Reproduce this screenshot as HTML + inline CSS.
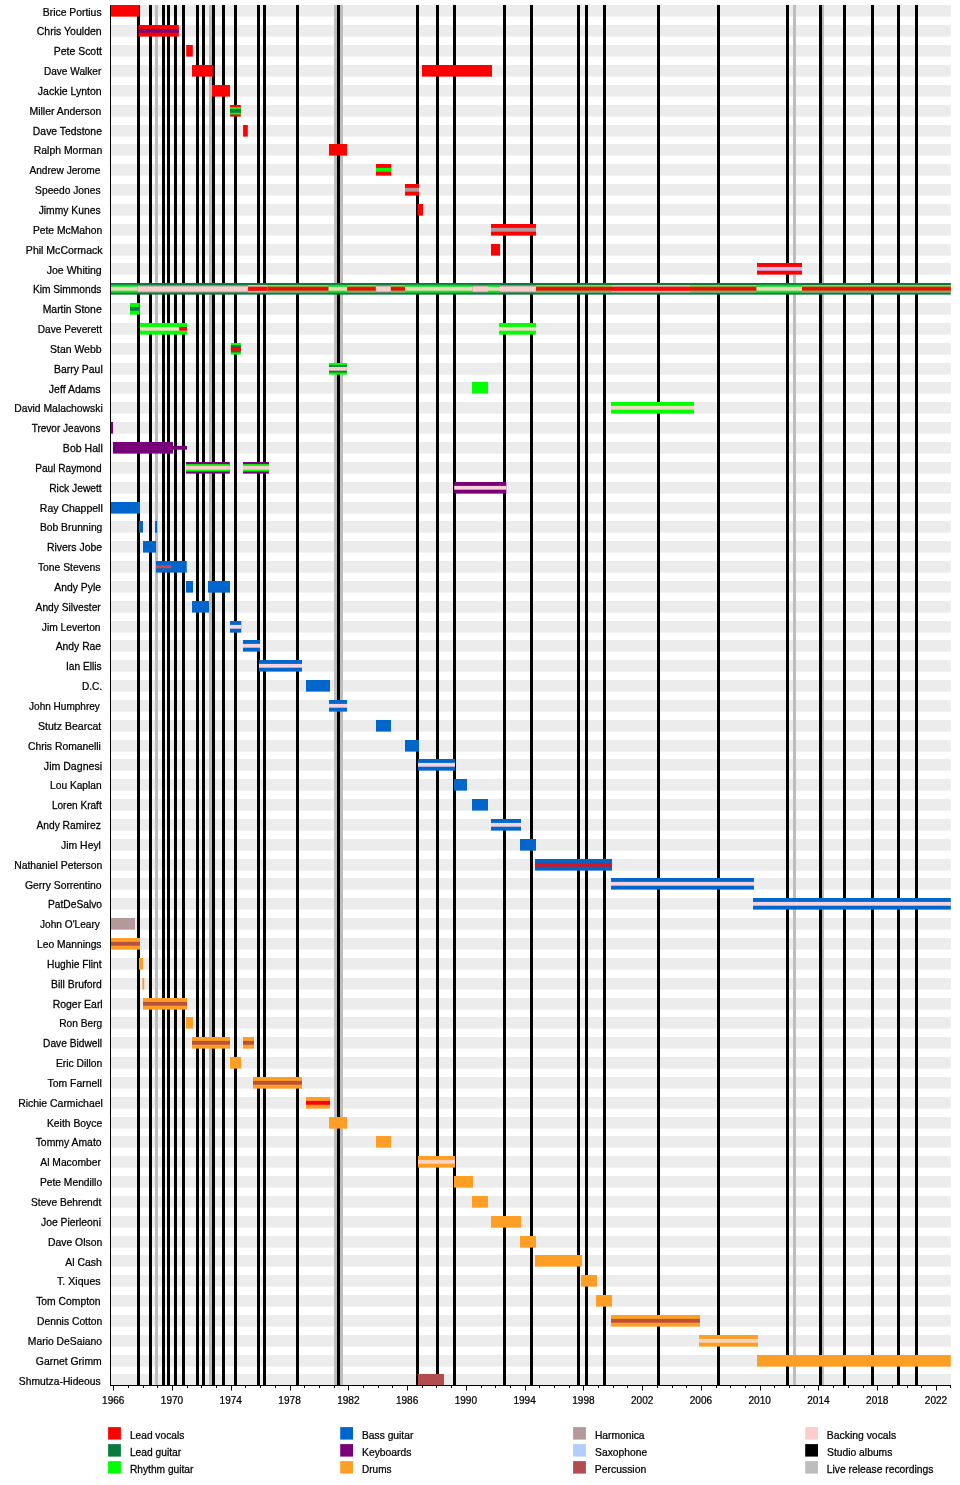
<!DOCTYPE html>
<html lang="en"><head><meta charset="utf-8"><title>Savoy Brown members timeline</title>
<style>html,body{margin:0;padding:0;background:#fff}body{width:960px;height:1485px;overflow:hidden}</style></head>
<body>
<svg width="960" height="1485" viewBox="0 0 960 1485" style="display:block">
<rect width="960" height="1485" fill="#fff"/>
<g fill="#ececec">
<rect x="110.0" y="5.00" width="840.8" height="11.60"/>
<rect x="110.0" y="25.00" width="840.8" height="11.60"/>
<rect x="110.0" y="45.00" width="840.8" height="11.60"/>
<rect x="110.0" y="65.00" width="840.8" height="11.60"/>
<rect x="110.0" y="85.00" width="840.8" height="11.60"/>
<rect x="110.0" y="105.00" width="840.8" height="11.60"/>
<rect x="110.0" y="125.00" width="840.8" height="11.60"/>
<rect x="110.0" y="144.00" width="840.8" height="11.60"/>
<rect x="110.0" y="164.00" width="840.8" height="11.60"/>
<rect x="110.0" y="184.00" width="840.8" height="11.60"/>
<rect x="110.0" y="204.00" width="840.8" height="11.60"/>
<rect x="110.0" y="224.00" width="840.8" height="11.60"/>
<rect x="110.0" y="244.00" width="840.8" height="11.60"/>
<rect x="110.0" y="263.00" width="840.8" height="11.60"/>
<rect x="110.0" y="283.00" width="840.8" height="11.60"/>
<rect x="110.0" y="303.00" width="840.8" height="11.60"/>
<rect x="110.0" y="323.00" width="840.8" height="11.60"/>
<rect x="110.0" y="343.00" width="840.8" height="11.60"/>
<rect x="110.0" y="363.00" width="840.8" height="11.60"/>
<rect x="110.0" y="382.00" width="840.8" height="11.60"/>
<rect x="110.0" y="402.00" width="840.8" height="11.60"/>
<rect x="110.0" y="422.00" width="840.8" height="11.60"/>
<rect x="110.0" y="442.00" width="840.8" height="11.60"/>
<rect x="110.0" y="462.00" width="840.8" height="11.60"/>
<rect x="110.0" y="482.00" width="840.8" height="11.60"/>
<rect x="110.0" y="502.00" width="840.8" height="11.60"/>
<rect x="110.0" y="521.00" width="840.8" height="11.60"/>
<rect x="110.0" y="541.00" width="840.8" height="11.60"/>
<rect x="110.0" y="561.00" width="840.8" height="11.60"/>
<rect x="110.0" y="581.00" width="840.8" height="11.60"/>
<rect x="110.0" y="601.00" width="840.8" height="11.60"/>
<rect x="110.0" y="621.00" width="840.8" height="11.60"/>
<rect x="110.0" y="640.00" width="840.8" height="11.60"/>
<rect x="110.0" y="660.00" width="840.8" height="11.60"/>
<rect x="110.0" y="680.00" width="840.8" height="11.60"/>
<rect x="110.0" y="700.00" width="840.8" height="11.60"/>
<rect x="110.0" y="720.00" width="840.8" height="11.60"/>
<rect x="110.0" y="740.00" width="840.8" height="11.60"/>
<rect x="110.0" y="759.00" width="840.8" height="11.60"/>
<rect x="110.0" y="779.00" width="840.8" height="11.60"/>
<rect x="110.0" y="799.00" width="840.8" height="11.60"/>
<rect x="110.0" y="819.00" width="840.8" height="11.60"/>
<rect x="110.0" y="839.00" width="840.8" height="11.60"/>
<rect x="110.0" y="859.00" width="840.8" height="11.60"/>
<rect x="110.0" y="878.00" width="840.8" height="11.60"/>
<rect x="110.0" y="898.00" width="840.8" height="11.60"/>
<rect x="110.0" y="918.00" width="840.8" height="11.60"/>
<rect x="110.0" y="938.00" width="840.8" height="11.60"/>
<rect x="110.0" y="958.00" width="840.8" height="11.60"/>
<rect x="110.0" y="978.00" width="840.8" height="11.60"/>
<rect x="110.0" y="998.00" width="840.8" height="11.60"/>
<rect x="110.0" y="1017.00" width="840.8" height="11.60"/>
<rect x="110.0" y="1037.00" width="840.8" height="11.60"/>
<rect x="110.0" y="1057.00" width="840.8" height="11.60"/>
<rect x="110.0" y="1077.00" width="840.8" height="11.60"/>
<rect x="110.0" y="1097.00" width="840.8" height="11.60"/>
<rect x="110.0" y="1117.00" width="840.8" height="11.60"/>
<rect x="110.0" y="1136.00" width="840.8" height="11.60"/>
<rect x="110.0" y="1156.00" width="840.8" height="11.60"/>
<rect x="110.0" y="1176.00" width="840.8" height="11.60"/>
<rect x="110.0" y="1196.00" width="840.8" height="11.60"/>
<rect x="110.0" y="1216.00" width="840.8" height="11.60"/>
<rect x="110.0" y="1236.00" width="840.8" height="11.60"/>
<rect x="110.0" y="1255.00" width="840.8" height="11.60"/>
<rect x="110.0" y="1275.00" width="840.8" height="11.60"/>
<rect x="110.0" y="1295.00" width="840.8" height="11.60"/>
<rect x="110.0" y="1315.00" width="840.8" height="11.60"/>
<rect x="110.0" y="1335.00" width="840.8" height="11.60"/>
<rect x="110.0" y="1355.00" width="840.8" height="11.60"/>
<rect x="110.0" y="1374.00" width="840.8" height="11.60"/>
</g>
<g fill="#bdbdbd">
<rect x="155" y="5.0" width="3" height="1380.5"/>
<rect x="209" y="5.0" width="3" height="1380.5"/>
<rect x="334" y="5.0" width="3" height="1380.5"/>
<rect x="340" y="5.0" width="3" height="1380.5"/>
<rect x="793" y="5.0" width="3" height="1380.5"/>
<rect x="821" y="5.0" width="3" height="1380.5"/>
</g><g fill="#000">
<rect x="137" y="5.0" width="3" height="1380.5"/>
<rect x="149" y="5.0" width="3" height="1380.5"/>
<rect x="162" y="5.0" width="3" height="1380.5"/>
<rect x="167" y="5.0" width="3" height="1380.5"/>
<rect x="174" y="5.0" width="3" height="1380.5"/>
<rect x="182" y="5.0" width="3" height="1380.5"/>
<rect x="196" y="5.0" width="3" height="1380.5"/>
<rect x="202" y="5.0" width="3" height="1380.5"/>
<rect x="212" y="5.0" width="3" height="1380.5"/>
<rect x="222" y="5.0" width="3" height="1380.5"/>
<rect x="234" y="5.0" width="3" height="1380.5"/>
<rect x="257" y="5.0" width="3" height="1380.5"/>
<rect x="263" y="5.0" width="3" height="1380.5"/>
<rect x="296" y="5.0" width="3" height="1380.5"/>
<rect x="337" y="5.0" width="3" height="1380.5"/>
<rect x="416" y="5.0" width="3" height="1380.5"/>
<rect x="436" y="5.0" width="3" height="1380.5"/>
<rect x="453" y="5.0" width="3" height="1380.5"/>
<rect x="503" y="5.0" width="3" height="1380.5"/>
<rect x="530" y="5.0" width="3" height="1380.5"/>
<rect x="577" y="5.0" width="3" height="1380.5"/>
<rect x="585" y="5.0" width="3" height="1380.5"/>
<rect x="603" y="5.0" width="3" height="1380.5"/>
<rect x="657" y="5.0" width="3" height="1380.5"/>
<rect x="717" y="5.0" width="3" height="1380.5"/>
<rect x="786" y="5.0" width="3" height="1380.5"/>
<rect x="819" y="5.0" width="3" height="1380.5"/>
<rect x="843" y="5.0" width="3" height="1380.5"/>
<rect x="871" y="5.0" width="3" height="1380.5"/>
<rect x="897" y="5.0" width="3" height="1380.5"/>
<rect x="915" y="5.0" width="3" height="1380.5"/>
</g>
<g>
<rect x="110.00" y="5.00" width="29.50" height="11.60" fill="#ff0000"/>
<rect x="138.50" y="25.00" width="40.30" height="11.60" fill="#ff0000"/>
<rect x="138.50" y="28.90" width="40.30" height="3.80" fill="#780078"/>
<rect x="186.20" y="45.00" width="6.60" height="11.60" fill="#ff0000"/>
<rect x="192.00" y="65.00" width="20.80" height="11.60" fill="#ff0000"/>
<rect x="422.00" y="65.00" width="70.00" height="11.60" fill="#ff0000"/>
<rect x="212.00" y="85.00" width="18.00" height="11.60" fill="#ff0000"/>
<rect x="230.10" y="105.00" width="10.70" height="11.60" fill="#ff0000"/>
<rect x="230.10" y="107.10" width="10.70" height="7.40" fill="#00ff00"/>
<rect x="230.10" y="108.90" width="10.70" height="3.80" fill="#0b7a3e"/>
<rect x="243.10" y="125.00" width="4.70" height="11.60" fill="#ff0000"/>
<rect x="329.00" y="144.00" width="18.00" height="11.60" fill="#ff0000"/>
<rect x="376.00" y="164.00" width="15.25" height="11.60" fill="#ff0000"/>
<rect x="376.00" y="167.90" width="15.25" height="3.80" fill="#00ff00"/>
<rect x="405.00" y="184.00" width="14.00" height="11.60" fill="#ff0000"/>
<rect x="405.00" y="187.90" width="14.00" height="3.80" fill="#b39999"/>
<rect x="417.50" y="204.00" width="5.50" height="11.60" fill="#ff0000"/>
<rect x="491.00" y="224.00" width="45.00" height="11.60" fill="#ff0000"/>
<rect x="491.00" y="227.90" width="45.00" height="3.80" fill="#b39999"/>
<rect x="491.00" y="244.00" width="9.00" height="11.60" fill="#ff0000"/>
<rect x="757.00" y="263.00" width="45.00" height="11.60" fill="#ff0000"/>
<rect x="757.00" y="266.90" width="45.00" height="3.80" fill="#d2bdf2"/>
<rect x="110.00" y="283.00" width="840.80" height="11.60" fill="#0b7a3e"/>
<rect x="110.00" y="284.80" width="27.50" height="8.00" fill="#14dc32"/>
<rect x="110.00" y="286.80" width="27.50" height="4.00" fill="#b4f08c"/>
<rect x="110.00" y="287.40" width="27.50" height="2.80" fill="#f2d4b8"/>
<rect x="137.50" y="285.30" width="110.50" height="7.20" fill="#a3a996"/>
<rect x="137.50" y="286.60" width="110.50" height="4.80" fill="#ffcccc"/>
<rect x="248.00" y="285.00" width="19.60" height="7.60" fill="#d4c0b0"/>
<rect x="248.00" y="286.40" width="19.60" height="4.80" fill="#e8685a"/>
<rect x="248.00" y="287.00" width="19.60" height="3.70" fill="#fa0a0a"/>
<rect x="267.60" y="285.00" width="61.15" height="7.60" fill="#a8c098"/>
<rect x="267.60" y="285.90" width="61.15" height="5.80" fill="#a09830"/>
<rect x="267.60" y="287.10" width="61.15" height="3.40" fill="#e41000"/>
<rect x="328.75" y="284.80" width="18.50" height="8.00" fill="#14dc32"/>
<rect x="328.75" y="286.80" width="18.50" height="4.00" fill="#b4f08c"/>
<rect x="328.75" y="287.40" width="18.50" height="2.80" fill="#f2d4b8"/>
<rect x="347.25" y="285.00" width="28.65" height="7.60" fill="#a8c098"/>
<rect x="347.25" y="285.90" width="28.65" height="5.80" fill="#a09830"/>
<rect x="347.25" y="287.10" width="28.65" height="3.40" fill="#e41000"/>
<rect x="375.90" y="285.30" width="15.00" height="7.20" fill="#a3a996"/>
<rect x="375.90" y="286.60" width="15.00" height="4.80" fill="#ffcccc"/>
<rect x="390.90" y="285.00" width="14.10" height="7.60" fill="#a8c098"/>
<rect x="390.90" y="285.90" width="14.10" height="5.80" fill="#a09830"/>
<rect x="390.90" y="287.10" width="14.10" height="3.40" fill="#e41000"/>
<rect x="405.00" y="284.80" width="67.50" height="8.00" fill="#14dc32"/>
<rect x="405.00" y="286.80" width="67.50" height="4.00" fill="#b4f08c"/>
<rect x="405.00" y="287.40" width="67.50" height="2.80" fill="#f2d4b8"/>
<rect x="472.50" y="285.30" width="15.50" height="7.20" fill="#a3a996"/>
<rect x="472.50" y="286.60" width="15.50" height="4.80" fill="#ffcccc"/>
<rect x="488.00" y="284.80" width="12.00" height="8.00" fill="#14dc32"/>
<rect x="488.00" y="286.80" width="12.00" height="4.00" fill="#b4f08c"/>
<rect x="488.00" y="287.40" width="12.00" height="2.80" fill="#f2d4b8"/>
<rect x="500.00" y="285.30" width="36.00" height="7.20" fill="#a3a996"/>
<rect x="500.00" y="286.60" width="36.00" height="4.80" fill="#ffcccc"/>
<rect x="536.00" y="285.00" width="76.00" height="7.60" fill="#a8c098"/>
<rect x="536.00" y="285.90" width="76.00" height="5.80" fill="#a09830"/>
<rect x="536.00" y="287.10" width="76.00" height="3.40" fill="#e41000"/>
<rect x="612.00" y="285.00" width="78.00" height="7.60" fill="#d4c0b0"/>
<rect x="612.00" y="286.40" width="78.00" height="4.80" fill="#e8685a"/>
<rect x="612.00" y="287.00" width="78.00" height="3.70" fill="#fa0a0a"/>
<rect x="690.00" y="285.00" width="66.70" height="7.60" fill="#a8c098"/>
<rect x="690.00" y="285.90" width="66.70" height="5.80" fill="#a09830"/>
<rect x="690.00" y="287.10" width="66.70" height="3.40" fill="#e41000"/>
<rect x="756.70" y="284.80" width="45.30" height="8.00" fill="#14dc32"/>
<rect x="756.70" y="286.80" width="45.30" height="4.00" fill="#b4f08c"/>
<rect x="756.70" y="287.40" width="45.30" height="2.80" fill="#f2d4b8"/>
<rect x="802.00" y="285.00" width="148.80" height="7.60" fill="#a8c098"/>
<rect x="802.00" y="285.90" width="148.80" height="5.80" fill="#a09830"/>
<rect x="802.00" y="287.10" width="148.80" height="3.40" fill="#e41000"/>
<rect x="130.00" y="303.00" width="9.80" height="11.60" fill="#00ff00"/>
<rect x="130.00" y="306.90" width="9.80" height="3.80" fill="#0b7a3e"/>
<rect x="140.00" y="323.00" width="47.00" height="11.60" fill="#00ff00"/>
<rect x="140.00" y="326.90" width="47.00" height="3.80" fill="#f3d8c4"/>
<rect x="179.20" y="326.90" width="7.80" height="3.80" fill="#ff0000"/>
<rect x="499.00" y="323.00" width="37.00" height="11.60" fill="#00ff00"/>
<rect x="499.00" y="326.90" width="37.00" height="3.80" fill="#f3d8c4"/>
<rect x="230.90" y="343.00" width="9.90" height="11.60" fill="#00ff00"/>
<rect x="230.90" y="345.10" width="9.90" height="7.40" fill="#0b7a3e"/>
<rect x="230.90" y="346.90" width="9.90" height="3.80" fill="#ff0000"/>
<rect x="329.00" y="363.00" width="17.90" height="11.60" fill="#00ff00"/>
<rect x="329.00" y="365.10" width="17.90" height="7.40" fill="#0b7a3e"/>
<rect x="329.00" y="366.90" width="17.90" height="3.80" fill="#ffcccc"/>
<rect x="472.00" y="382.00" width="16.00" height="11.60" fill="#00ff00"/>
<rect x="611.00" y="402.00" width="83.00" height="11.60" fill="#00ff00"/>
<rect x="611.00" y="405.90" width="83.00" height="3.80" fill="#f3d8c4"/>
<rect x="110.50" y="422.00" width="2.50" height="11.60" fill="#780078"/>
<rect x="113.00" y="442.00" width="60.00" height="11.60" fill="#780078"/>
<rect x="173.00" y="445.90" width="14.00" height="3.80" fill="#780078"/>
<rect x="186.00" y="462.00" width="43.80" height="11.60" fill="#780078"/>
<rect x="186.00" y="464.10" width="43.80" height="7.40" fill="#00ff00"/>
<rect x="186.00" y="465.90" width="43.80" height="3.80" fill="#ffcccc"/>
<rect x="243.00" y="462.00" width="26.00" height="11.60" fill="#780078"/>
<rect x="243.00" y="464.10" width="26.00" height="7.40" fill="#00ff00"/>
<rect x="243.00" y="465.90" width="26.00" height="3.80" fill="#ffcccc"/>
<rect x="454.20" y="482.00" width="52.10" height="11.60" fill="#780078"/>
<rect x="454.20" y="485.90" width="52.10" height="3.80" fill="#fbd0d8"/>
<rect x="110.50" y="502.00" width="29.50" height="11.60" fill="#0066cc"/>
<rect x="139.00" y="521.00" width="4.00" height="11.60" fill="#0066cc"/>
<rect x="155.00" y="521.00" width="2.00" height="11.60" fill="#0066cc"/>
<rect x="143.00" y="541.00" width="13.00" height="11.60" fill="#0066cc"/>
<rect x="156.00" y="561.00" width="30.75" height="11.60" fill="#0066cc"/>
<rect x="156.00" y="565.30" width="15.50" height="3.00" fill="#c8485a"/>
<rect x="186.00" y="581.00" width="7.00" height="11.60" fill="#0066cc"/>
<rect x="208.00" y="581.00" width="22.00" height="11.60" fill="#0066cc"/>
<rect x="192.00" y="601.00" width="17.00" height="11.60" fill="#0066cc"/>
<rect x="230.00" y="621.00" width="11.25" height="11.60" fill="#0066cc"/>
<rect x="230.00" y="624.90" width="11.25" height="3.80" fill="#f6d3de"/>
<rect x="243.00" y="640.00" width="17.00" height="11.60" fill="#0066cc"/>
<rect x="243.00" y="643.90" width="17.00" height="3.80" fill="#f6d3de"/>
<rect x="259.00" y="660.00" width="43.00" height="11.60" fill="#0066cc"/>
<rect x="259.00" y="663.90" width="43.00" height="3.80" fill="#f6d3de"/>
<rect x="306.00" y="680.00" width="24.00" height="11.60" fill="#0066cc"/>
<rect x="329.00" y="700.00" width="18.00" height="11.60" fill="#0066cc"/>
<rect x="329.00" y="703.90" width="18.00" height="3.80" fill="#f6d3de"/>
<rect x="376.00" y="720.00" width="15.00" height="11.60" fill="#0066cc"/>
<rect x="405.00" y="740.00" width="14.00" height="11.60" fill="#0066cc"/>
<rect x="418.00" y="759.00" width="37.00" height="11.60" fill="#0066cc"/>
<rect x="418.00" y="762.90" width="37.00" height="3.80" fill="#f6d3de"/>
<rect x="454.00" y="779.00" width="13.00" height="11.60" fill="#0066cc"/>
<rect x="472.00" y="799.00" width="16.00" height="11.60" fill="#0066cc"/>
<rect x="491.00" y="819.00" width="30.00" height="11.60" fill="#0066cc"/>
<rect x="491.00" y="822.90" width="30.00" height="3.80" fill="#f6d3de"/>
<rect x="520.00" y="839.00" width="16.00" height="11.60" fill="#0066cc"/>
<rect x="535.00" y="859.00" width="77.00" height="11.60" fill="#0066cc"/>
<rect x="535.00" y="862.90" width="77.00" height="3.80" fill="#d81420"/>
<rect x="611.00" y="878.00" width="143.00" height="11.60" fill="#0066cc"/>
<rect x="611.00" y="881.90" width="143.00" height="3.80" fill="#f6d3de"/>
<rect x="753.00" y="898.00" width="197.80" height="11.60" fill="#0066cc"/>
<rect x="753.00" y="901.90" width="197.80" height="3.80" fill="#f6d3de"/>
<rect x="110.50" y="918.00" width="24.50" height="11.60" fill="#b39999"/>
<rect x="110.50" y="938.00" width="29.50" height="11.60" fill="#ff9e24"/>
<rect x="110.50" y="941.90" width="29.50" height="3.80" fill="#b8503f"/>
<rect x="139.00" y="958.00" width="4.00" height="11.60" fill="#ff9e24"/>
<rect x="142.50" y="978.00" width="1.75" height="11.60" fill="#ff9e24"/>
<rect x="143.00" y="998.00" width="44.00" height="11.60" fill="#ff9e24"/>
<rect x="143.00" y="1001.90" width="44.00" height="3.80" fill="#b8503f"/>
<rect x="186.00" y="1017.00" width="7.00" height="11.60" fill="#ff9e24"/>
<rect x="192.00" y="1037.00" width="38.00" height="11.60" fill="#ff9e24"/>
<rect x="192.00" y="1040.90" width="38.00" height="3.80" fill="#b8503f"/>
<rect x="243.00" y="1037.00" width="11.00" height="11.60" fill="#ff9e24"/>
<rect x="243.00" y="1040.90" width="11.00" height="3.80" fill="#b8503f"/>
<rect x="230.00" y="1057.00" width="11.00" height="11.60" fill="#ff9e24"/>
<rect x="253.00" y="1077.00" width="49.00" height="11.60" fill="#ff9e24"/>
<rect x="253.00" y="1080.90" width="49.00" height="3.80" fill="#b8503f"/>
<rect x="306.00" y="1097.00" width="24.00" height="11.60" fill="#ff9e24"/>
<rect x="306.00" y="1100.90" width="24.00" height="3.80" fill="#ff0000"/>
<rect x="329.00" y="1117.00" width="18.00" height="11.60" fill="#ff9e24"/>
<rect x="376.00" y="1136.00" width="15.00" height="11.60" fill="#ff9e24"/>
<rect x="418.00" y="1156.00" width="37.00" height="11.60" fill="#ff9e24"/>
<rect x="418.00" y="1159.90" width="37.00" height="3.80" fill="#ffd3c2"/>
<rect x="454.00" y="1176.00" width="19.00" height="11.60" fill="#ff9e24"/>
<rect x="472.00" y="1196.00" width="16.00" height="11.60" fill="#ff9e24"/>
<rect x="491.00" y="1216.00" width="30.00" height="11.60" fill="#ff9e24"/>
<rect x="520.00" y="1236.00" width="16.00" height="11.60" fill="#ff9e24"/>
<rect x="535.00" y="1255.00" width="47.00" height="11.60" fill="#ff9e24"/>
<rect x="581.00" y="1275.00" width="16.00" height="11.60" fill="#ff9e24"/>
<rect x="596.00" y="1295.00" width="16.00" height="11.60" fill="#ff9e24"/>
<rect x="611.00" y="1315.00" width="89.00" height="11.60" fill="#ff9e24"/>
<rect x="611.00" y="1318.90" width="89.00" height="3.80" fill="#b8503f"/>
<rect x="699.00" y="1335.00" width="59.00" height="11.60" fill="#ff9e24"/>
<rect x="699.00" y="1338.90" width="59.00" height="3.80" fill="#ffd3c2"/>
<rect x="757.00" y="1355.00" width="193.80" height="11.60" fill="#ff9e24"/>
<rect x="418.00" y="1374.00" width="26.00" height="11.60" fill="#b34d4d"/>
</g>
<rect x="110" y="5" width="1" height="1381" fill="#000"/>
<rect x="110" y="1385" width="841" height="1" fill="#000"/>
<g fill="#000">
<rect x="113" y="1385" width="1" height="5.5"/>
<rect x="128" y="1385" width="1" height="3.0"/>
<rect x="143" y="1385" width="1" height="3.0"/>
<rect x="157" y="1385" width="1" height="3.0"/>
<rect x="172" y="1385" width="1" height="5.5"/>
<rect x="187" y="1385" width="1" height="3.0"/>
<rect x="201" y="1385" width="1" height="3.0"/>
<rect x="216" y="1385" width="1" height="3.0"/>
<rect x="231" y="1385" width="1" height="5.5"/>
<rect x="245" y="1385" width="1" height="3.0"/>
<rect x="260" y="1385" width="1" height="3.0"/>
<rect x="275" y="1385" width="1" height="3.0"/>
<rect x="290" y="1385" width="1" height="5.5"/>
<rect x="304" y="1385" width="1" height="3.0"/>
<rect x="319" y="1385" width="1" height="3.0"/>
<rect x="334" y="1385" width="1" height="3.0"/>
<rect x="348" y="1385" width="1" height="5.5"/>
<rect x="363" y="1385" width="1" height="3.0"/>
<rect x="378" y="1385" width="1" height="3.0"/>
<rect x="392" y="1385" width="1" height="3.0"/>
<rect x="407" y="1385" width="1" height="5.5"/>
<rect x="422" y="1385" width="1" height="3.0"/>
<rect x="436" y="1385" width="1" height="3.0"/>
<rect x="451" y="1385" width="1" height="3.0"/>
<rect x="466" y="1385" width="1" height="5.5"/>
<rect x="481" y="1385" width="1" height="3.0"/>
<rect x="495" y="1385" width="1" height="3.0"/>
<rect x="510" y="1385" width="1" height="3.0"/>
<rect x="525" y="1385" width="1" height="5.5"/>
<rect x="539" y="1385" width="1" height="3.0"/>
<rect x="554" y="1385" width="1" height="3.0"/>
<rect x="569" y="1385" width="1" height="3.0"/>
<rect x="583" y="1385" width="1" height="5.5"/>
<rect x="598" y="1385" width="1" height="3.0"/>
<rect x="613" y="1385" width="1" height="3.0"/>
<rect x="627" y="1385" width="1" height="3.0"/>
<rect x="642" y="1385" width="1" height="5.5"/>
<rect x="657" y="1385" width="1" height="3.0"/>
<rect x="672" y="1385" width="1" height="3.0"/>
<rect x="686" y="1385" width="1" height="3.0"/>
<rect x="701" y="1385" width="1" height="5.5"/>
<rect x="716" y="1385" width="1" height="3.0"/>
<rect x="730" y="1385" width="1" height="3.0"/>
<rect x="745" y="1385" width="1" height="3.0"/>
<rect x="760" y="1385" width="1" height="5.5"/>
<rect x="774" y="1385" width="1" height="3.0"/>
<rect x="789" y="1385" width="1" height="3.0"/>
<rect x="804" y="1385" width="1" height="3.0"/>
<rect x="818" y="1385" width="1" height="5.5"/>
<rect x="833" y="1385" width="1" height="3.0"/>
<rect x="848" y="1385" width="1" height="3.0"/>
<rect x="863" y="1385" width="1" height="3.0"/>
<rect x="877" y="1385" width="1" height="5.5"/>
<rect x="892" y="1385" width="1" height="3.0"/>
<rect x="907" y="1385" width="1" height="3.0"/>
<rect x="921" y="1385" width="1" height="3.0"/>
<rect x="936" y="1385" width="1" height="5.5"/>
<rect x="950" y="1385" width="1" height="3.0"/>
</g>
<g font-family="'Liberation Sans', Arial, Helvetica, sans-serif" font-size="10.7" fill="#000" stroke="#000" stroke-width="0.25">
<text transform="translate(113.25,1403.6) scale(0.94,1)" text-anchor="middle">1966</text>
<text transform="translate(172.02,1403.6) scale(0.94,1)" text-anchor="middle">1970</text>
<text transform="translate(230.79,1403.6) scale(0.94,1)" text-anchor="middle">1974</text>
<text transform="translate(289.55,1403.6) scale(0.94,1)" text-anchor="middle">1978</text>
<text transform="translate(348.32,1403.6) scale(0.94,1)" text-anchor="middle">1982</text>
<text transform="translate(407.09,1403.6) scale(0.94,1)" text-anchor="middle">1986</text>
<text transform="translate(465.86,1403.6) scale(0.94,1)" text-anchor="middle">1990</text>
<text transform="translate(524.63,1403.6) scale(0.94,1)" text-anchor="middle">1994</text>
<text transform="translate(583.39,1403.6) scale(0.94,1)" text-anchor="middle">1998</text>
<text transform="translate(642.16,1403.6) scale(0.94,1)" text-anchor="middle">2002</text>
<text transform="translate(700.93,1403.6) scale(0.94,1)" text-anchor="middle">2006</text>
<text transform="translate(759.70,1403.6) scale(0.94,1)" text-anchor="middle">2010</text>
<text transform="translate(818.47,1403.6) scale(0.94,1)" text-anchor="middle">2014</text>
<text transform="translate(877.23,1403.6) scale(0.94,1)" text-anchor="middle">2018</text>
<text transform="translate(936.00,1403.6) scale(0.94,1)" text-anchor="middle">2022</text>
<text transform="translate(42.77,15.60) scale(0.9706,1)">Brice Portius</text>
<text transform="translate(36.76,35.44) scale(0.9846,1)">Chris Youlden</text>
<text transform="translate(53.87,55.28) scale(0.9753,1)">Pete Scott</text>
<text transform="translate(43.89,75.12) scale(0.9439,1)">Dave Walker</text>
<text transform="translate(37.85,94.96) scale(0.9828,1)">Jackie Lynton</text>
<text transform="translate(29.57,114.80) scale(0.9744,1)">Miller Anderson</text>
<text transform="translate(32.87,134.64) scale(0.9714,1)">Dave Tedstone</text>
<text transform="translate(33.77,154.48) scale(0.9760,1)">Ralph Morman</text>
<text transform="translate(29.40,174.32) scale(0.9495,1)">Andrew Jerome</text>
<text transform="translate(35.12,194.16) scale(0.9570,1)">Speedo Jones</text>
<text transform="translate(38.66,214.00) scale(0.9654,1)">Jimmy Kunes</text>
<text transform="translate(32.88,233.84) scale(0.9645,1)">Pete McMahon</text>
<text transform="translate(25.86,253.68) scale(0.9857,1)">Phil McCormack</text>
<text transform="translate(46.75,273.52) scale(0.9836,1)">Joe Whiting</text>
<text transform="translate(32.88,293.36) scale(0.9541,1)">Kim Simmonds</text>
<text transform="translate(42.67,313.20) scale(0.9738,1)">Martin Stone</text>
<text transform="translate(37.79,333.04) scale(0.9478,1)">Dave Peverett</text>
<text transform="translate(50.01,352.88) scale(0.9778,1)">Stan Webb</text>
<text transform="translate(53.97,372.72) scale(0.9773,1)">Barry Paul</text>
<text transform="translate(48.85,392.56) scale(0.9827,1)">Jeff Adams</text>
<text transform="translate(14.17,412.40) scale(0.9689,1)">David Malachowski</text>
<text transform="translate(31.67,432.24) scale(0.9388,1)">Trevor Jeavons</text>
<text transform="translate(62.86,452.08) scale(0.9872,1)">Bob Hall</text>
<text transform="translate(35.19,471.92) scale(0.9484,1)">Paul Raymond</text>
<text transform="translate(49.18,491.76) scale(0.9619,1)">Rick Jewett</text>
<text transform="translate(39.86,511.60) scale(0.9801,1)">Ray Chappell</text>
<text transform="translate(39.88,531.44) scale(0.9644,1)">Bob Brunning</text>
<text transform="translate(46.97,551.28) scale(0.9756,1)">Rivers Jobe</text>
<text transform="translate(37.96,571.12) scale(0.9650,1)">Tone Stevens</text>
<text transform="translate(54.30,590.96) scale(0.9717,1)">Andy Pyle</text>
<text transform="translate(35.60,610.80) scale(0.9538,1)">Andy Silvester</text>
<text transform="translate(41.76,630.64) scale(0.9610,1)">Jim Leverton</text>
<text transform="translate(55.70,650.48) scale(0.9677,1)">Andy Rae</text>
<text transform="translate(65.94,670.32) scale(0.9556,1)">Ian Ellis</text>
<text transform="translate(81.99,690.16) scale(0.9418,1)">D.C.</text>
<text transform="translate(29.07,710.00) scale(0.9382,1)">John Humphrey</text>
<text transform="translate(38.01,729.84) scale(0.9858,1)">Stutz Bearcat</text>
<text transform="translate(27.92,749.68) scale(0.9670,1)">Chris Romanelli</text>
<text transform="translate(43.85,769.52) scale(0.9905,1)">Jim Dagnesi</text>
<text transform="translate(50.08,789.36) scale(0.9536,1)">Lou Kaplan</text>
<text transform="translate(51.89,809.20) scale(0.9423,1)">Loren Kraft</text>
<text transform="translate(36.40,829.04) scale(0.9594,1)">Andy Ramirez</text>
<text transform="translate(61.06,848.88) scale(0.9725,1)">Jim Heyl</text>
<text transform="translate(14.17,868.72) scale(0.9687,1)">Nathaniel Peterson</text>
<text transform="translate(24.91,888.56) scale(0.9705,1)">Gerry Sorrentino</text>
<text transform="translate(47.98,908.40) scale(0.9575,1)">PatDeSalvo</text>
<text transform="translate(40.06,928.24) scale(0.9460,1)">John O'Leary</text>
<text transform="translate(36.98,948.08) scale(0.9606,1)">Leo Mannings</text>
<text transform="translate(46.98,967.92) scale(0.9582,1)">Hughie Flint</text>
<text transform="translate(50.97,987.76) scale(0.9734,1)">Bill Bruford</text>
<text transform="translate(52.67,1007.60) scale(0.9789,1)">Roger Earl</text>
<text transform="translate(59.19,1027.44) scale(0.9531,1)">Ron Berg</text>
<text transform="translate(43.08,1047.28) scale(0.9544,1)">Dave Bidwell</text>
<text transform="translate(55.88,1067.12) scale(0.9626,1)">Eric Dillon</text>
<text transform="translate(47.46,1086.96) scale(0.9745,1)">Tom Farnell</text>
<text transform="translate(18.17,1106.80) scale(0.9760,1)">Richie Carmichael</text>
<text transform="translate(46.97,1126.64) scale(0.9668,1)">Keith Boyce</text>
<text transform="translate(35.66,1146.48) scale(0.9731,1)">Tommy Amato</text>
<text transform="translate(40.30,1166.32) scale(0.9625,1)">Al Macomber</text>
<text transform="translate(39.88,1186.16) scale(0.9606,1)">Pete Mendillo</text>
<text transform="translate(31.02,1206.00) scale(0.9534,1)">Steve Behrendt</text>
<text transform="translate(40.96,1225.84) scale(0.9712,1)">Joe Pierleoni</text>
<text transform="translate(47.97,1245.68) scale(0.9706,1)">Dave Olson</text>
<text transform="translate(65.30,1265.52) scale(0.9741,1)">Al Cash</text>
<text transform="translate(57.05,1285.36) scale(0.9919,1)">T. Xiques</text>
<text transform="translate(36.16,1305.20) scale(0.9695,1)">Tom Compton</text>
<text transform="translate(36.98,1325.04) scale(0.9645,1)">Dennis Cotton</text>
<text transform="translate(27.87,1344.88) scale(0.9669,1)">Mario DeSaiano</text>
<text transform="translate(35.81,1364.72) scale(0.9744,1)">Garnet Grimm</text>
<text transform="translate(18.82,1384.56) scale(0.9631,1)">Shmutza-Hideous</text>
<rect x="108.1" y="1427.1" width="12.8" height="12.5" fill="#ff0000" stroke="none"/>
<text transform="translate(129.88,1438.70) scale(0.9536,1)">Lead vocals</text>
<rect x="108.1" y="1444.1" width="12.8" height="12.5" fill="#0b7a3e" stroke="none"/>
<text transform="translate(129.88,1455.70) scale(0.9600,1)">Lead guitar</text>
<rect x="108.1" y="1461.1" width="12.8" height="12.5" fill="#00ff00" stroke="none"/>
<text transform="translate(129.88,1472.70) scale(0.9557,1)">Rhythm guitar</text>
<rect x="340.2" y="1427.1" width="12.8" height="12.5" fill="#0066cc" stroke="none"/>
<text transform="translate(362.03,1438.70) scale(0.9590,1)">Bass guitar</text>
<rect x="340.2" y="1444.1" width="12.8" height="12.5" fill="#780078" stroke="none"/>
<text transform="translate(362.03,1455.70) scale(0.9650,1)">Keyboards</text>
<rect x="340.2" y="1461.1" width="12.8" height="12.5" fill="#ff9e24" stroke="none"/>
<text transform="translate(362.05,1472.70) scale(0.9339,1)">Drums</text>
<rect x="573.1" y="1427.1" width="12.8" height="12.5" fill="#b39999" stroke="none"/>
<text transform="translate(594.88,1438.70) scale(0.9608,1)">Harmonica</text>
<rect x="573.1" y="1444.1" width="12.8" height="12.5" fill="#b3ccff" stroke="none"/>
<text transform="translate(595.12,1455.70) scale(0.9604,1)">Saxophone</text>
<rect x="573.1" y="1461.1" width="12.8" height="12.5" fill="#b34d4d" stroke="none"/>
<text transform="translate(594.87,1472.70) scale(0.9709,1)">Percussion</text>
<rect x="805.2" y="1427.1" width="12.8" height="12.5" fill="#ffcccc" stroke="none"/>
<text transform="translate(826.77,1438.70) scale(0.9722,1)">Backing vocals</text>
<rect x="805.2" y="1444.1" width="12.8" height="12.5" fill="#000" stroke="none"/>
<text transform="translate(827.02,1455.70) scale(0.9648,1)">Studio albums</text>
<rect x="805.2" y="1461.1" width="12.8" height="12.5" fill="#bdbdbd" stroke="none"/>
<text transform="translate(826.78,1472.70) scale(0.9657,1)">Live release recordings</text>
</g></svg>
</body></html>
